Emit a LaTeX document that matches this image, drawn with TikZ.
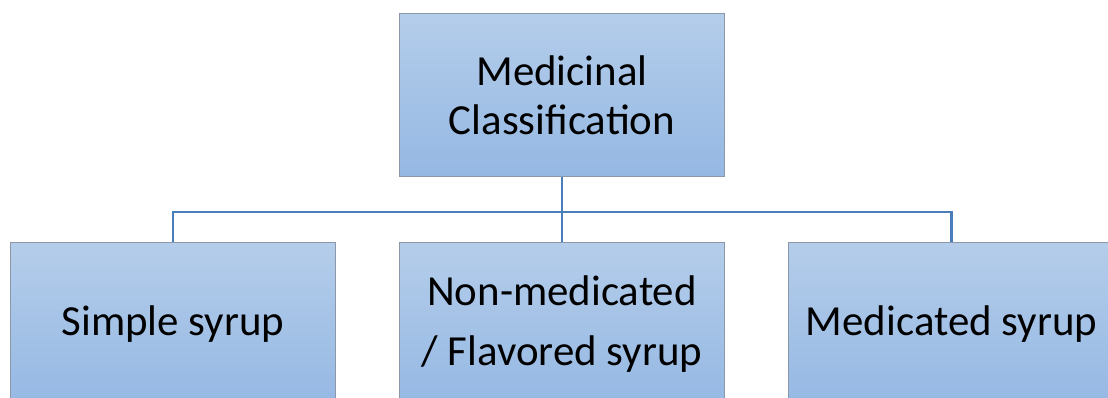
\documentclass[tikz,border=0pt]{standalone}
\usepackage{fontspec}
\setmainfont{Carlito}
\usetikzlibrary{positioning}
\definecolor{boxline}{RGB}{140,152,170}
\definecolor{boxtop}{RGB}{180,205,234}
\definecolor{boxbottom}{RGB}{149,184,227}
\definecolor{linkblue}{RGB}{74,126,187}

\begin{document}
\begin{tikzpicture}[x=0.025cm,y=-0.025cm,
	box/.style={draw=boxline, line width=0.7pt, top color=boxtop, bottom color=boxbottom,
		minimum width=8.125cm, minimum height=4.075cm, inner sep=0pt, align=center,
		font=\fontsize{30.5}{35}\selectfont},
	link/.style={draw=linkblue, line width=2pt}]
					\useasboundingbox (0,0) rectangle (1108,397);
					
					\node[box] (top) at (562,95) {Medicinal\\Classification};
					
					\node[box] (simple) at (173,324.5) {Simple syrup};
					\node[box, font=\fontsize{30.5}{42.7}\selectfont] (flavored) at (562,324.5) {Non-medicated\\/ Flavored syrup};
					\node[box] (medicated) at (951.5,324.5) {Medicated syrup};
					
					\coordinate (bus) at (562,212);
					
					\draw[link] (top.south) -- (flavored.north);
					\draw[link] (simple.north) -- (simple.north |- bus) -- (medicated.north |- bus) -- (medicated.north);
				\end{tikzpicture}
\end{document}
